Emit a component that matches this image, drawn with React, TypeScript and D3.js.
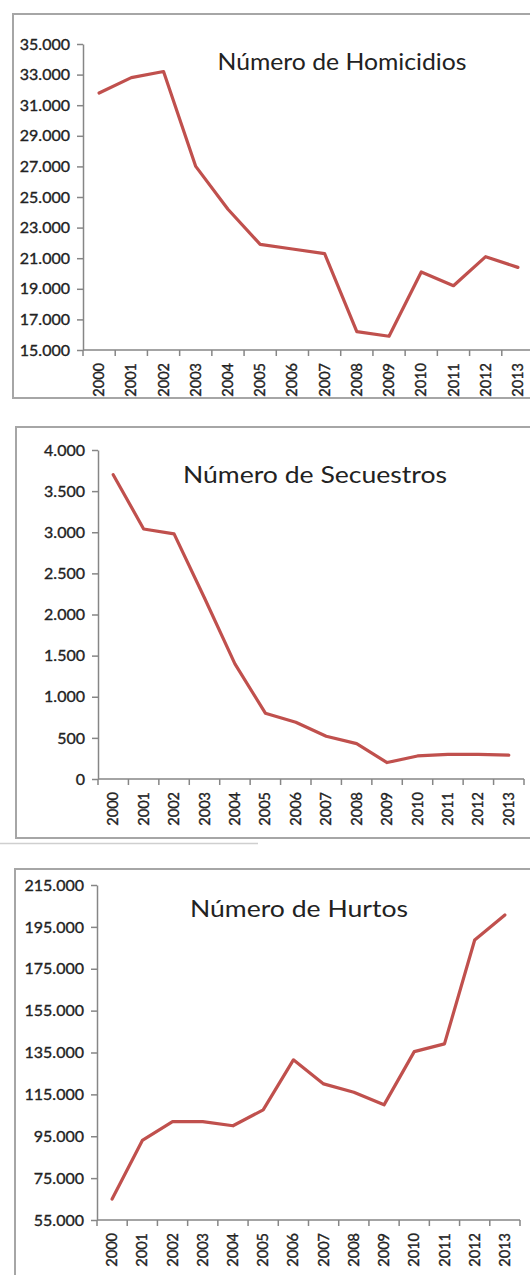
import { useEffect, useRef } from 'react';
import * as d3 from 'd3';

const YEARS = ['2000', '2001', '2002', '2003', '2004', '2005', '2006', '2007', '2008', '2009', '2010', '2011', '2012', '2013'];

const HOMICIDIOS = [31800, 32800, 33200, 27000, 24200, 21900, 21600, 21300, 16200, 15900, 20100, 19200, 21100, 20400];
const SECUESTROS = [3700, 3040, 2980, 2200, 1400, 800, 690, 520, 430, 200, 280, 300, 300, 290];
const HURTOS = [65000, 93000, 102000, 102000, 100000, 107600, 131500, 120000, 116000, 110000, 135400, 139100, 188700, 200700];

const HOMICIDIOS_TICKS = [15000, 17000, 19000, 21000, 23000, 25000, 27000, 29000, 31000, 33000, 35000];
const SECUESTROS_TICKS = [0, 500, 1000, 1500, 2000, 2500, 3000, 3500, 4000];
const HURTOS_TICKS = [55000, 75000, 95000, 115000, 135000, 155000, 175000, 195000, 215000];

const TITLES = ['Número de Homicidios', 'Número de Secuestros', 'Número de Hurtos'];

const LINE = '#c0504d';
const AXIS = '#868686';
const TEXT = '#222';
const FONT = 'Lato, "Open Sans", sans-serif';

const fmt = d3.formatLocale({ decimal: ',', thousands: '.', grouping: [3], currency: ['', ''] }).format(',');

// layout of each framed panel (pixel positions of the scanned page)
const PANELS = [
  { title: TITLES[0], values: HOMICIDIOS, ticks: HOMICIDIOS_TICKS, box: [13, 14, 560, 384], x0: 83, x1: 534, y0: 44, y1: 350, tx: 342, ty: 70, tw: 249 },
  { title: TITLES[1], values: SECUESTROS, ticks: SECUESTROS_TICKS, box: [16, 427, 560, 411], x0: 98, x1: 524, y0: 450, y1: 779, tx: 315, ty: 483, tw: 264 },
  { title: TITLES[2], values: HURTOS, ticks: HURTOS_TICKS, box: [15, 869, 560, 500], x0: 97, x1: 520, y0: 885, y1: 1220, tx: 299, ty: 917, tw: 218 }
];

export default function App() {
  const svgRef = useRef<SVGSVGElement>(null);

  useEffect(() => {
    if (!svgRef.current) return;
    const svg = d3.select(svgRef.current);
    svg.selectAll('*').remove();

    svg.append('rect').attr('width', 530).attr('height', 1275).attr('fill', 'white');

    PANELS.forEach(p => {
      const g = svg.append('g');
      const [bx, by, bw, bh] = p.box;

      g.append('rect')
        .attr('x', bx).attr('y', by)
        .attr('width', bw).attr('height', bh)
        .attr('fill', 'white')
        .attr('stroke', '#a6a6a6')
        .attr('stroke-width', 2);

      const x = d3.scaleBand<string>().domain(YEARS).range([p.x0, p.x1]).padding(0);
      const ext = d3.extent(p.ticks) as [number, number];
      const y = d3.scaleLinear().domain(ext).range([p.y1, p.y0]);

      // y axis
      const yAxis = g.append('g')
        .attr('transform', `translate(${p.x0},0)`)
        .call(d3.axisLeft(y).tickValues(p.ticks).tickSize(6).tickPadding(7).tickFormat(d => fmt(d as number)).tickSizeOuter(0));
      yAxis.select('.domain').attr('stroke', AXIS).attr('stroke-width', 1.5);
      yAxis.selectAll('.tick line').attr('stroke', AXIS).attr('stroke-width', 1.5);
      yAxis.selectAll('.tick text')
        .attr('fill', TEXT)
        .attr('stroke', TEXT)
        .attr('stroke-width', 0.35)
        .style('font-family', FONT)
        .style('font-size', '16px');

      // x axis, ticks between categories like Excel
      const xg = g.append('g').attr('transform', `translate(0,${p.y1})`);
      xg.append('line')
        .attr('x1', p.x0).attr('x2', p.x1)
        .attr('stroke', AXIS).attr('stroke-width', 1.5);
      const bounds = YEARS.map(d => x(d)!).concat([p.x1]);
      xg.selectAll('.xt')
        .data(bounds)
        .enter()
        .append('line')
        .attr('x1', d => d).attr('x2', d => d)
        .attr('y1', 0).attr('y2', 6)
        .attr('stroke', AXIS).attr('stroke-width', 1.5);
      xg.selectAll('.xl')
        .data(YEARS)
        .enter()
        .append('text')
        .attr('transform', d => `translate(${x(d)! + x.bandwidth() / 2},13) rotate(-90)`)
        .attr('text-anchor', 'end')
        .attr('dy', '0.35em')
        .attr('fill', TEXT)
        .attr('stroke', TEXT)
        .attr('stroke-width', 0.35)
        .style('font-family', FONT)
        .style('font-size', '14.5px')
        .text(d => d);

      // series line
      const line = d3.line<number>()
        .x((_, i) => x(YEARS[i])! + x.bandwidth() / 2)
        .y(d => y(d));
      g.append('path')
        .datum(p.values)
        .attr('d', line)
        .attr('fill', 'none')
        .attr('stroke', LINE)
        .attr('stroke-width', 3.2)
        .attr('stroke-linejoin', 'round')
        .attr('stroke-linecap', 'round');

      // title
      g.append('text')
        .attr('x', p.tx)
        .attr('y', p.ty)
        .attr('text-anchor', 'middle')
        .attr('textLength', p.tw)
        .attr('lengthAdjust', 'spacingAndGlyphs')
        .attr('fill', TEXT)
        .style('font-family', FONT)
        .style('font-size', '23px')
        .text(p.title);
    });

    // faint edge of the scanned page under the second panel
    svg.append('line')
      .attr('x1', 0).attr('x2', 258)
      .attr('y1', 843.5).attr('y2', 843.5)
      .attr('stroke', '#cfcfcf')
      .attr('stroke-width', 1.5);
  }, []);

  return (
    <svg
      ref={svgRef}
      width={530}
      height={1275}
      style={{ position: 'absolute', left: 0, top: 0, display: 'block' }}
    ></svg>
  );
}
